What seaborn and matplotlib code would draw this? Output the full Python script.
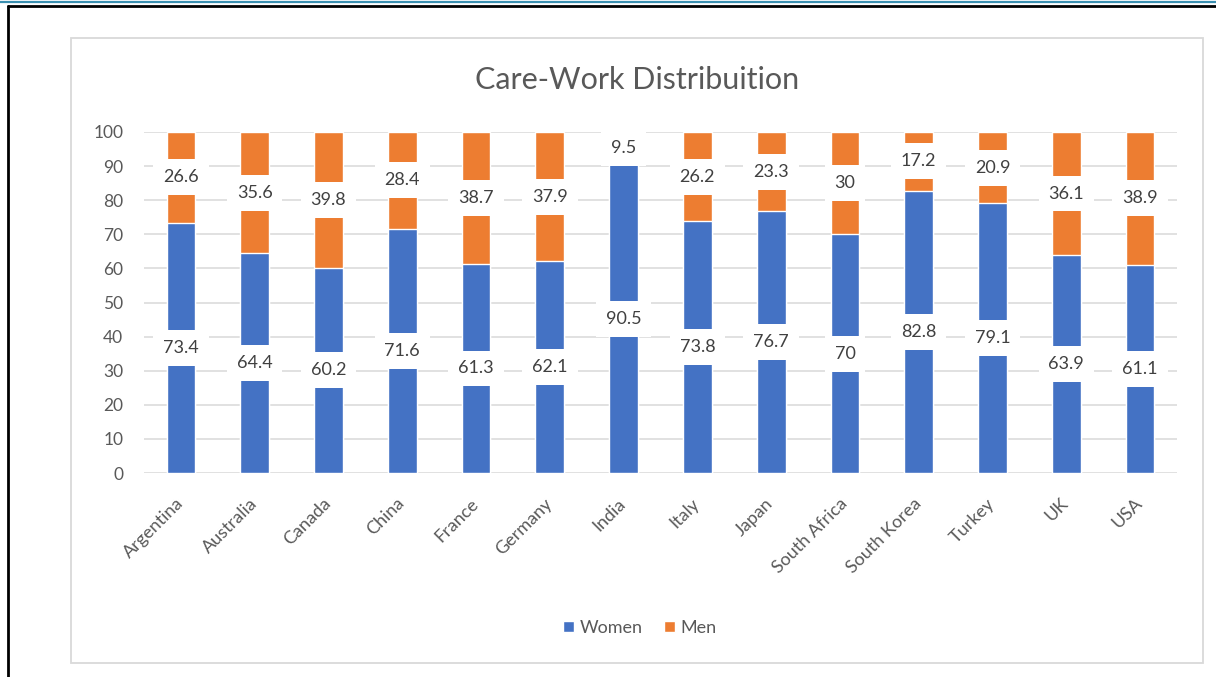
import matplotlib
matplotlib.use("Agg")
import matplotlib.pyplot as plt
import matplotlib.transforms as mtransforms
from matplotlib.lines import Line2D
from matplotlib.patches import Rectangle, Patch
import seaborn as sns
import pandas as pd

countries = ["Argentina", "Australia", "Canada", "China", "France", "Germany", "India",
             "Italy", "Japan", "South Africa", "South Korea", "Turkey", "UK", "USA"]
women = [73.4, 64.4, 60.2, 71.6, 61.3, 62.1, 90.5, 73.8, 76.7, 70, 82.8, 79.1, 63.9, 61.1]
men = [26.6, 35.6, 39.8, 28.4, 38.7, 37.9, 9.5, 26.2, 23.3, 30, 17.2, 20.9, 36.1, 38.9]
y_ticks = [0, 10, 20, 30, 40, 50, 60, 70, 80, 90, 100]

BLUE = "#4472C4"
ORANGE = "#ED7D31"
GRAY_TEXT = "#595959"
GRID = "#D9D9D9"

sns.set_theme(style="white")
plt.rcParams["font.family"] = ["Lato", "DejaVu Sans"]

W, H = 1216, 677
fig = plt.figure(figsize=(W / 100, H / 100), dpi=100)
fig.patch.set_facecolor("white")

ax = fig.add_axes([144 / W, 1 - 473 / H, (1177 - 144) / W, (473 - 132) / H])

df = pd.DataFrame({"country": countries, "women": women, "men": men})
df["total"] = df["women"] + df["men"]

# Stacked bars: full-height orange bar underneath, women's share drawn on top
sns.barplot(data=df, x="country", y="total", color=ORANGE, width=0.39,
            saturation=1, ax=ax, zorder=2)
sns.barplot(data=df, x="country", y="women", color=BLUE, width=0.39,
            saturation=1, ax=ax, zorder=3)

# Data labels centred in each segment, on a white box
box = dict(boxstyle="square,pad=0.55", facecolor="white", edgecolor="none")
for i, (w, m) in enumerate(zip(women, men)):
    ax.text(i, w / 2, f"{w:g}", ha="center", va="center", fontsize=13,
            color="#404040", bbox=box, zorder=5)
    ax.text(i, w + m / 2, f"{m:g}", ha="center", va="center", fontsize=13,
            color="#404040", bbox=box, zorder=5)

ax.set_ylim(0, 100)
ax.set_xlim(-0.5, len(countries) - 0.5)
ax.set_yticks(y_ticks)
ax.set_yticklabels([str(v) for v in y_ticks], fontsize=12.5, color=GRAY_TEXT)
ax.yaxis.grid(True, color=GRID, linewidth=1.1, zorder=0)
ax.set_axisbelow(True)
ax.tick_params(axis="y", length=0, pad=15)
ax.tick_params(axis="x", length=0, pad=16)
ax.set_xticks(range(len(countries)))
ax.set_xticklabels(countries, rotation=45, ha="right", rotation_mode="anchor",
                   fontsize=13, color=GRAY_TEXT)
# nudge the slanted category labels a little to the left
shift = mtransforms.ScaledTranslation(-6 / 100, 0, fig.dpi_scale_trans)
for lbl in ax.get_xticklabels():
    lbl.set_transform(lbl.get_transform() + shift)
ax.set_xlabel("")
ax.set_ylabel("")
for s in ax.spines.values():
    s.set_visible(False)
ax.set_facecolor("none")

fig.text(637 / W, 1 - 80 / H, "Care-Work Distribuition", ha="center", va="center",
         fontsize=22, color=GRAY_TEXT)

handles = [Patch(facecolor=BLUE, label="Women"), Patch(facecolor=ORANGE, label="Men")]
fig.legend(handles=handles, loc="center", bbox_to_anchor=(640 / W, 1 - 628 / H),
           ncol=2, frameon=False, fontsize=13, handlelength=0.6, handleheight=0.6,
           handletextpad=0.3, columnspacing=1.2, labelcolor=GRAY_TEXT)

# Chart area border
fig.add_artist(Rectangle((71 / W, 1 - 663 / H), (1203 - 71) / W, (663 - 38) / H,
                         transform=fig.transFigure, facecolor="none",
                         edgecolor=GRID, linewidth=1.3, zorder=0))

# Outer frame lines
fig.add_artist(Line2D([0, 1], [1 - 1.5 / H, 1 - 1.5 / H], transform=fig.transFigure,
                      color="#3A8FB0", linewidth=1.6))
fig.add_artist(Line2D([7.5 / W, 1], [1 - 5.5 / H, 1 - 5.5 / H], transform=fig.transFigure,
                      color="black", linewidth=2.0))
fig.add_artist(Line2D([7.5 / W, 7.5 / W], [0, 1 - 5.5 / H], transform=fig.transFigure,
                      color="black", linewidth=2.0))

fig.savefig("out.png", dpi=100, facecolor="white")
